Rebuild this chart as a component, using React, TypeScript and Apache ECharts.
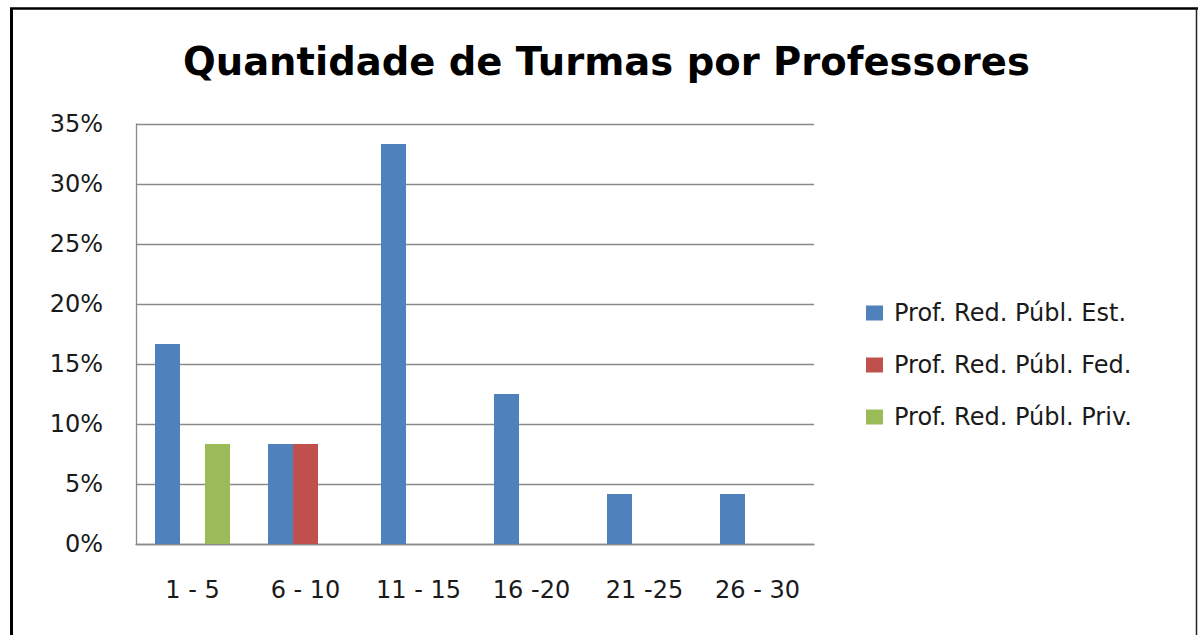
import React, { useEffect, useRef } from "react";
import * as echarts from "echarts";

const categories = ["1 - 5", "6 - 10", "11 - 15", "16 -20", "21 -25", "26 - 30"];
const seriesNames = ["Prof. Red. Públ. Est.", "Prof. Red. Públ. Fed.", "Prof. Red. Públ. Priv."];
const estValues = [16.67, 8.33, 33.33, 12.5, 4.17, 4.17];
const fedValues = [0, 8.33, 0, 0, 0, 0];
const privValues = [8.33, 0, 0, 0, 0, 0];
const colors = ["#4F81BD", "#C0504D", "#9BBB59"];
const titleText = "Quantidade de Turmas por Professores";

export default function App() {
  const ref = useRef<HTMLDivElement>(null);
  useEffect(() => {
    if (!ref.current) return;
    const chart = echarts.init(ref.current, null, { renderer: "svg" });
    const font = "DejaVu Sans";
    const txt = "#1a1a1a";
    const mk = (name: string, data: number[], color: string) => ({
      name,
      type: "bar",
      data,
      barWidth: 25,
      barGap: "0%",
      itemStyle: { color },
    });
    chart.setOption({
      animation: false,
      backgroundColor: "#ffffff",
      title: {
        text: titleText,
        left: 183,
        top: 42,
        padding: 0,
        textStyle: { fontFamily: font, fontSize: 38.5, fontWeight: "bold", color: "#000" },
      },
      grid: { left: 136, top: 124, right: 385, bottom: 91, containLabel: false },
      legend: {
        orient: "vertical",
        left: 866,
        top: 301,
        itemWidth: 17,
        itemHeight: 15,
        itemGap: 28,
        icon: "rect",
        padding: 0,
        textStyle: { fontFamily: font, fontSize: 24, color: txt, padding: [0, 0, 0, 6] },
        data: seriesNames,
      },
      xAxis: {
        type: "category",
        data: categories,
        axisLine: { lineStyle: { color: "#8a8a8a", width: 1.3 } },
        axisTick: { show: false },
        axisLabel: { fontFamily: font, fontSize: 24, color: txt, margin: 34 },
      },
      yAxis: {
        type: "value",
        min: 0,
        max: 35,
        interval: 5,
        axisLine: { show: true, lineStyle: { color: "#8a8a8a", width: 1.3 } },
        axisTick: { show: false },
        splitLine: { lineStyle: { color: "#8a8a8a", width: 1.3 } },
        axisLabel: { fontFamily: font, fontSize: 24, color: txt, margin: 33, formatter: "{value}%" },
      },
      series: [
        mk(seriesNames[0], estValues, colors[0]),
        mk(seriesNames[1], fedValues, colors[1]),
        mk(seriesNames[2], privValues, colors[2]),
      ],
      graphic: [
        { type: "line", shape: { x1: 11.5, y1: 8, x2: 11.5, y2: 640 }, style: { stroke: "#000", lineWidth: 3 } },
        { type: "line", shape: { x1: 10, y1: 8.5, x2: 1198, y2: 8.5 }, style: { stroke: "#000", lineWidth: 2.5 } },
        { type: "line", shape: { x1: 1196.5, y1: 8, x2: 1196.5, y2: 640 }, style: { stroke: "#222", lineWidth: 1.5 } },
      ],
    });
    return () => chart.dispose();
  }, []);
  return (
    <div
      ref={ref}
      style={{ position: "fixed", left: 0, top: 0, width: 1199, height: 635, background: "#fff" }}
    />
  );
}
